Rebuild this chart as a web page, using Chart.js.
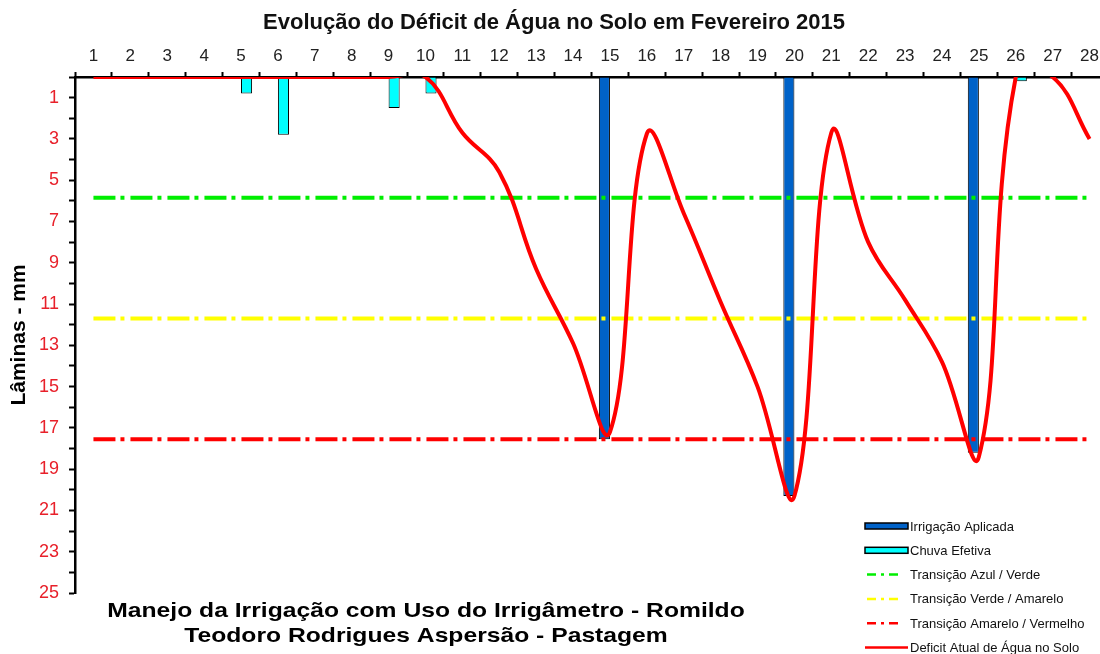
<!DOCTYPE html>
<html>
<head>
<meta charset="utf-8">
<title>Déficit de Água no Solo</title>
<script src="https://cdn.jsdelivr.net/npm/chart.js@4.4.1/dist/chart.umd.min.js"></script>
<style>
html, body { margin: 0; padding: 0; background: #fff; overflow: hidden; }
#wrap { width: 1108px; height: 654px; }
</style>
</head>
<body>
<div id="wrap"><canvas id="grafico" width="1108" height="654"></canvas></div>
<script>
// dias de fevereiro
var dias = ['1','2','3','4','5','6','7','8','9','10','11','12','13','14',
            '15','16','17','18','19','20','21','22','23','24','25','26','27','28'];

// laminas em mm
var irrigacao = [null,null,null,null,null,null,null,null,null,null,null,null,null,null,
                 17.55,null,null,null,null,20.3,null,null,null,null,18.2,null,null,null];
var chuva = [null,null,null,null,0.8,2.8,null,null,1.5,0.8,null,null,null,null,
             null,null,null,null,null,null,null,null,null,null,null,0.2,null,null];
var deficit = [0,0,0,0,0,0,0,0,0,0,2.7,4.6,9.3,12.9,
               17.2,2.75,6.6,10.9,15.0,20.3,2.7,8.0,10.8,13.8,18.4,0,0,3.0];

// limites de transicao
var limiteAzulVerde = 5.85;
var limiteVerdeAmarelo = 11.7;
var limiteAmareloVermelho = 17.55;

var fonte = 'Arial, "Liberation Sans", sans-serif';
Chart.defaults.font.family = fonte;

function linhaLimite(label, valor, cor) {
	return {
		type: 'line', label: label, order: 1,
		data: dias.map(function(){ return valor; }),
		borderColor: cor, borderWidth: 4, borderDash: [22, 5, 4, 6],
		pointRadius: 0, tension: 0, fill: false, clip: 0
	};
}

var extras = {
	id: 'extras',
	afterDraw: function(chart) {
		var ctx = chart.ctx;
		var ds = chart.data.datasets;
		ctx.save();
		// legenda
		ctx.font = '13px ' + fonte;
		ctx.textBaseline = 'middle';
		ctx.textAlign = 'left';
		var idx = [4, 5, 1, 2, 3, 0];
		idx.forEach(function(k, i) {
			var d = ds[k];
			var y = 526 + i * 24.3;
			if (d.type === 'bar') {
				ctx.fillStyle = d.backgroundColor;
				ctx.fillRect(865, y - 3, 43, 6);
				ctx.strokeStyle = '#000';
				ctx.lineWidth = 1.5;
				ctx.strokeRect(865, y - 3, 43, 6);
			} else {
				ctx.beginPath();
				ctx.strokeStyle = d.borderColor;
				ctx.lineWidth = 2.5;
				ctx.setLineDash(d.borderDash ? [9, 5, 3, 5] : []);
				ctx.moveTo(d.borderDash ? 867 : 865, y);
				ctx.lineTo(d.borderDash ? 900 : 908, y);
				ctx.stroke();
				ctx.setLineDash([]);
			}
			ctx.fillStyle = '#111';
			ctx.fillText(d.label, 910, y + 1);
		});
		// texto inferior
		ctx.font = 'bold 21px ' + fonte;
		ctx.textAlign = 'center';
		ctx.textBaseline = 'alphabetic';
		ctx.fillStyle = '#000';
		[['Manejo da Irrigação com Uso do Irrigâmetro - Romildo', 617],
		 ['Teodoro Rodrigues Aspersão - Pastagem', 642]].forEach(function(t) {
			ctx.save();
			ctx.translate(426, t[1]);
			ctx.scale(1.175, 1);
			ctx.fillText(t[0], 0, 0);
			ctx.restore();
		});
		ctx.restore();
	}
};

var ctx = document.getElementById('grafico').getContext('2d');
window.grafico = new Chart(ctx, {
	type: 'bar',
	data: {
		labels: dias,
		datasets: [
			{ type: 'line', label: 'Deficit Atual de Água no Solo', order: 0, data: deficit,
			  borderColor: '#ff0000', borderWidth: 4, pointRadius: 0, tension: 0.4,
			  cubicInterpolationMode: 'default', capBezierPoints: false, fill: false, clip: 0 },
			linhaLimite('Transição Azul / Verde', limiteAzulVerde, '#00ee00'),
			linhaLimite('Transição Verde / Amarelo', limiteVerdeAmarelo, '#ffff00'),
			linhaLimite('Transição Amarelo / Vermelho', limiteAmareloVermelho, '#ff0000'),
			{ type: 'bar', label: 'Irrigação Aplicada', order: 2, data: irrigacao,
			  backgroundColor: '#0062c8', borderColor: '#000', borderWidth: 1,
			  categoryPercentage: 0.6, barPercentage: 1 },
			{ type: 'bar', label: 'Chuva Efetiva', order: 2, data: chuva,
			  backgroundColor: '#00ffff', borderColor: '#000', borderWidth: 1,
			  categoryPercentage: 0.6, barPercentage: 1 }
		]
	},
	options: {
		responsive: false, animation: false, devicePixelRatio: 1,
		layout: { padding: { left: 0, right: 0, top: 0, bottom: 61 } },
		elements: { line: { capBezierPoints: false } },
		plugins: {
			legend: { display: false },
			tooltip: { enabled: false },
			title: { display: true, text: 'Evolução do Déficit de Água no Solo em Fevereiro 2015',
			         color: '#111', font: { size: 22, weight: 'bold' }, padding: { top: 10, bottom: 0 } }
		},
		scales: {
			x: {
				position: 'top', offset: true,
				afterFit: function(s) { s.height = 40.6; },
				border: { color: '#000', width: 2.5 },
				grid: { offset: true, drawOnChartArea: false, color: '#000', tickLength: 5, tickWidth: 2 },
				ticks: { color: '#222', font: { size: 17 }, padding: 5, maxRotation: 0, autoSkip: false }
			},
			y: {
				reverse: true, min: 0, max: 25,
				afterFit: function(s) { s.width = 75; },
				border: { color: '#000', width: 2.5 },
				grid: { drawOnChartArea: false, color: '#000', tickLength: 6, tickWidth: 2 },
				ticks: { stepSize: 1, autoSkip: false, color: '#e8202a', font: { size: 18 }, padding: 10,
				         callback: function(v) { return v % 2 === 1 ? v : ''; } },
				title: { display: true, text: 'Lâminas - mm', color: '#000',
				         font: { size: 21, weight: 'bold' }, padding: { top: 7, bottom: 0 } }
			}
		}
	},
	plugins: [extras]
});
</script>
</body>
</html>
